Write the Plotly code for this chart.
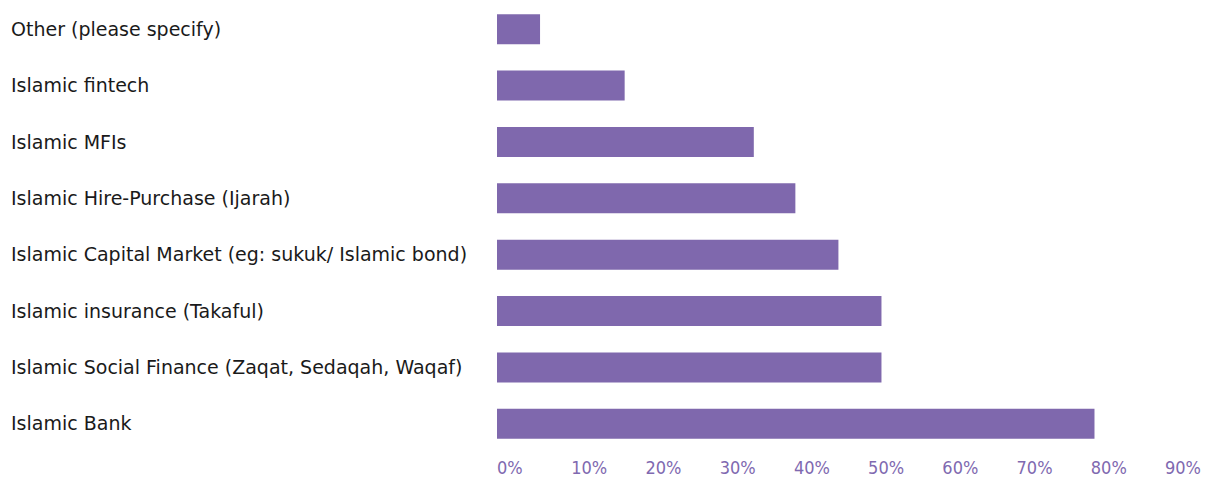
import plotly.graph_objects as go

# Survey answers, listed bottom-to-top as drawn
categories = [
    "Islamic Bank",
    "Islamic Social Finance (Zaqat, Sedaqah, Waqaf)",
    "Islamic insurance (Takaful)",
    "Islamic Capital Market (eg: sukuk/ Islamic bond)",
    "Islamic Hire-Purchase (Ijarah)",
    "Islamic MFIs",
    "Islamic fintech",
    "Other (please specify)",
]
shares = [80.5, 51.8, 51.8, 46.0, 40.2, 34.6, 17.2, 5.8]
tick_values = [0, 10, 20, 30, 40, 50, 60, 70, 80, 90]
tick_labels = [f"{v}%" for v in tick_values]

W, H = 1206, 477
ML, MR, MT, MB = 10, 41, 1, 25
plot_w = W - ML - MR
x_start = (497 - ML) / plot_w

bar_color = "#7F68AD"
tick_color = "#8069B0"

fig = go.Figure(
    go.Bar(
        x=shares,
        y=categories,
        orientation="h",
        marker=dict(color=bar_color, line=dict(width=0)),
        hoverinfo="x+y",
    )
)

fig.update_layout(
    width=W,
    height=H,
    margin=dict(l=ML, r=MR, t=MT, b=MB),
    paper_bgcolor="white",
    plot_bgcolor="white",
    showlegend=False,
    bargap=0.468,
    xaxis=dict(
        domain=[x_start, 1],
        range=[0, 90],
        tickvals=tick_values,
        ticktext=tick_labels,
        ticklabelposition="outside right",
        ticklabelstandoff=3,
        automargin=False,
        showgrid=False,
        zeroline=False,
        showline=False,
        ticks="",
        tickfont=dict(family="DejaVu Sans Condensed, DejaVu Sans, sans-serif",
                      size=18, color=tick_color),
        fixedrange=True,
    ),
    yaxis=dict(
        anchor="free",
        position=0,
        side="right",
        automargin=False,
        showgrid=False,
        zeroline=False,
        showline=False,
        ticks="",
        tickfont=dict(family="DejaVu Sans, sans-serif", size=19, color="#1a1a1a"),
        categoryorder="array",
        categoryarray=categories,
        fixedrange=True,
    ),
)

fig.write_html("out.html")
